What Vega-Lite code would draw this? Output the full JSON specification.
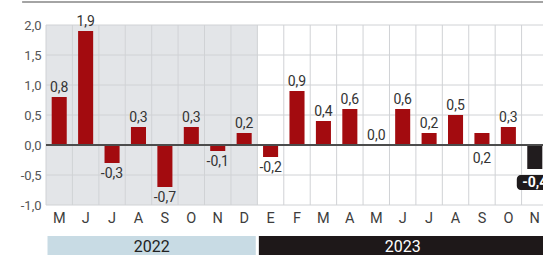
{
  "$schema": "https://vega.github.io/schema/vega-lite/v6.json",
  "width": 502,
  "height": 180,
  "autosize": {"type": "none"},
  "padding": {"left": 46, "top": 25, "right": 0, "bottom": 50},
  "config": {
    "font": "Roboto",
    "view": {"stroke": null},
    "axisY": {"labelOverlap": false, "labelFlush": false, "ticks": false, "domain": false, "grid": false, "labelPadding": 5, "labelFontSize": 13, "labelColor": "#555", "title": null},
    "locale": {"number": {"decimal": ",", "thousands": ".", "grouping": [3], "currency": ["", " €"], "minus": "-"}}
  },
  "datasets": {
    "meses": [
      {"mes": "2022-05", "anio": "2022", "valor": 0.8},
      {"mes": "2022-06", "anio": "2022", "valor": 1.9},
      {"mes": "2022-07", "anio": "2022", "valor": -0.3},
      {"mes": "2022-08", "anio": "2022", "valor": 0.3},
      {"mes": "2022-09", "anio": "2022", "valor": -0.7},
      {"mes": "2022-10", "anio": "2022", "valor": 0.3},
      {"mes": "2022-11", "anio": "2022", "valor": -0.1},
      {"mes": "2022-12", "anio": "2022", "valor": 0.2},
      {"mes": "2023-01", "anio": "2023", "valor": -0.2},
      {"mes": "2023-02", "anio": "2023", "valor": 0.9},
      {"mes": "2023-03", "anio": "2023", "valor": 0.4},
      {"mes": "2023-04", "anio": "2023", "valor": 0.6},
      {"mes": "2023-05", "anio": "2023", "valor": 0.0},
      {"mes": "2023-06", "anio": "2023", "valor": 0.6},
      {"mes": "2023-07", "anio": "2023", "valor": 0.2},
      {"mes": "2023-08", "anio": "2023", "valor": 0.5},
      {"mes": "2023-09", "anio": "2023", "valor": 0.2},
      {"mes": "2023-10", "anio": "2023", "valor": 0.3},
      {"mes": "2023-11", "anio": "2023", "valor": -0.4}
    ],
    "anios": [
      {"anio": "2022", "ini": 0, "fin": 8, "centro": 4},
      {"anio": "2023", "ini": 8, "fin": 19, "centro": 13.5}
    ],
    "ticks": [{"t": -1}, {"t": -0.5}, {"t": 0.5}, {"t": 1}, {"t": 1.5}, {"t": 2}]
  },
  "layer": [
    {
      "data": {"name": "meses"},
      "layer": [
        {
          "transform": [{"filter": "datum.anio == '2022'"}],
          "mark": {"type": "bar", "color": "#e3e5e8", "width": {"band": 1}},
          "encoding": {
            "x": {
              "field": "mes", "type": "ordinal",
              "scale": {"paddingInner": 0, "paddingOuter": 0},
              "axis": {
                "title": null, "labelAngle": 0, "ticks": false, "domain": false, "grid": false,
                "labelPadding": 6, "labelFontSize": 14.5, "labelColor": "#3d3d3d",
                "labelExpr": "['E','F','M','A','M','J','J','A','S','O','N','D'][toNumber(substring(datum.value,5,7))-1]"
              }
            },
            "y": {"datum": -1, "type": "quantitative", "scale": {"domain": [-1, 2], "nice": false, "zero": false}, "axis": {"values": [-1, -0.5, 0, 0.5, 1, 1.5, 2], "format": ".1f"}},
            "y2": {"datum": 2}
          }
        },
        {
          "mark": {"type": "rule", "color": "#d0d2d5", "strokeWidth": 1},
          "encoding": {"x": {"field": "mes", "type": "ordinal", "bandPosition": 0}}
        },
        {
          "data": {"name": "ticks"},
          "mark": {"type": "rule", "color": "#d0d2d5", "strokeWidth": 1},
          "encoding": {"y": {"field": "t", "type": "quantitative", "scale": {"domain": [-1, 2], "nice": false, "zero": false}, "axis": {"values": [-1, -0.5, 0, 0.5, 1, 1.5, 2], "format": ".1f"}}}
        },
        {
          "mark": {"type": "bar", "width": {"band": 0.57}},
          "encoding": {
            "x": {"field": "mes", "type": "ordinal"},
            "y": {
              "field": "valor", "type": "quantitative",
              "scale": {"domain": [-1, 2], "nice": false, "zero": false},
              "axis": {"values": [-1, -0.5, 0, 0.5, 1, 1.5, 2], "format": ".1f"}
            },
            "y2": {"datum": 0},
            "color": {"condition": {"test": "datum.mes == '2023-11'", "value": "#211c1e"}, "value": "#a30b0f"}
          }
        },
        {
          "mark": {"type": "rule", "color": "#4d4d4d", "strokeWidth": 1.5},
          "encoding": {"y": {"datum": 0, "type": "quantitative", "scale": {"domain": [-1, 2], "nice": false, "zero": false}, "axis": {"values": [-1, -0.5, 0, 0.5, 1, 1.5, 2], "format": ".1f"}}}
        },
        {
          "transform": [{"filter": "datum.valor >= 0 && datum.mes != '2023-09'"}],
          "mark": {"type": "text", "baseline": "alphabetic", "dy": -5, "fontSize": 14, "color": "#333"},
          "encoding": {
            "x": {"field": "mes", "type": "ordinal"},
            "y": {"field": "valor", "type": "quantitative", "axis": {"values": [-1, -0.5, 0, 0.5, 1, 1.5, 2], "format": ".1f"}},
            "text": {"field": "valor", "type": "quantitative", "format": ".1f"}
          }
        },
        {
          "transform": [{"filter": "datum.valor < 0 && datum.mes != '2023-11'"}],
          "mark": {"type": "text", "baseline": "top", "dy": 4, "fontSize": 14, "color": "#333"},
          "encoding": {
            "x": {"field": "mes", "type": "ordinal"},
            "y": {"field": "valor", "type": "quantitative", "axis": {"values": [-1, -0.5, 0, 0.5, 1, 1.5, 2], "format": ".1f"}},
            "text": {"field": "valor", "type": "quantitative", "format": ".1f"}
          }
        },
        {
          "transform": [{"filter": "datum.mes == '2023-09'"}],
          "mark": {"type": "text", "baseline": "top", "dy": 7, "fontSize": 14, "color": "#333"},
          "encoding": {
            "x": {"field": "mes", "type": "ordinal"},
            "y": {"datum": 0, "type": "quantitative", "axis": {"values": [-1, -0.5, 0, 0.5, 1, 1.5, 2], "format": ".1f"}},
            "text": {"field": "valor", "type": "quantitative", "format": ".1f"}
          }
        },
        {
          "transform": [{"filter": "datum.mes == '2023-11'"}],
          "mark": {
            "type": "point", "filled": true, "opacity": 1, "color": "#1e1a1c", "size": 484,
            "shape": "M -1.28,0.545 L 1.28,0.545 A 0.36,0.36 0 0 1 1.636,0.905 L 1.636,1.55 A 0.36,0.36 0 0 1 1.28,1.909 L -1.28,1.909 A 0.36,0.36 0 0 1 -1.636,1.55 L -1.636,0.905 A 0.36,0.36 0 0 1 -1.28,0.545 Z"
          },
          "encoding": {
            "x": {"field": "mes", "type": "ordinal"},
            "y": {"field": "valor", "type": "quantitative", "axis": {"values": [-1, -0.5, 0, 0.5, 1, 1.5, 2], "format": ".1f"}}
          }
        },
        {
          "transform": [{"filter": "datum.mes == '2023-11'"}],
          "mark": {"type": "text", "baseline": "middle", "dy": 13.5, "fontSize": 14, "fontWeight": "bold", "color": "white"},
          "encoding": {
            "x": {"field": "mes", "type": "ordinal"},
            "y": {"field": "valor", "type": "quantitative", "axis": {"values": [-1, -0.5, 0, 0.5, 1, 1.5, 2], "format": ".1f"}},
            "text": {"field": "valor", "type": "quantitative", "format": ".1f"}
          }
        }
      ]
    },
    {
      "data": {"name": "anios"},
      "layer": [
        {
          "mark": {"type": "rect", "stroke": "white", "strokeWidth": 3},
          "encoding": {
            "x": {"field": "ini", "type": "quantitative", "scale": {"domain": [0, 19], "nice": false, "zero": false}, "axis": null},
            "x2": {"field": "fin"},
            "y": {"datum": -1.49, "type": "quantitative", "scale": {"domain": [-1, 2], "nice": false, "zero": false}, "axis": {"values": [-1, -0.5, 0, 0.5, 1, 1.5, 2], "format": ".1f"}},
            "y2": {"datum": -1.9},
            "color": {"field": "anio", "type": "nominal", "scale": {"domain": ["2022", "2023"], "range": ["#c8dbe4", "#1e1819"]}, "legend": null}
          }
        },
        {
          "mark": {"type": "text", "baseline": "middle", "fontSize": 16},
          "encoding": {
            "x": {"field": "centro", "type": "quantitative"},
            "y": {"datum": -1.7, "type": "quantitative", "axis": {"values": [-1, -0.5, 0, 0.5, 1, 1.5, 2], "format": ".1f"}},
            "text": {"field": "anio"},
            "color": {"condition": {"test": "datum.anio == '2023'", "value": "white"}, "value": "#222"}
          }
        },
        {
          "mark": {"type": "rule", "color": "#9e9e9e", "strokeWidth": 1.5},
          "encoding": {
            "x": {"datum": -0.9, "type": "quantitative"},
            "x2": {"datum": 19},
            "y": {"datum": 2.383, "type": "quantitative", "axis": {"values": [-1, -0.5, 0, 0.5, 1, 1.5, 2], "format": ".1f"}}
          }
        }
      ]
    }
  ],
  "resolve": {"scale": {"x": "independent", "color": "independent"}}
}
